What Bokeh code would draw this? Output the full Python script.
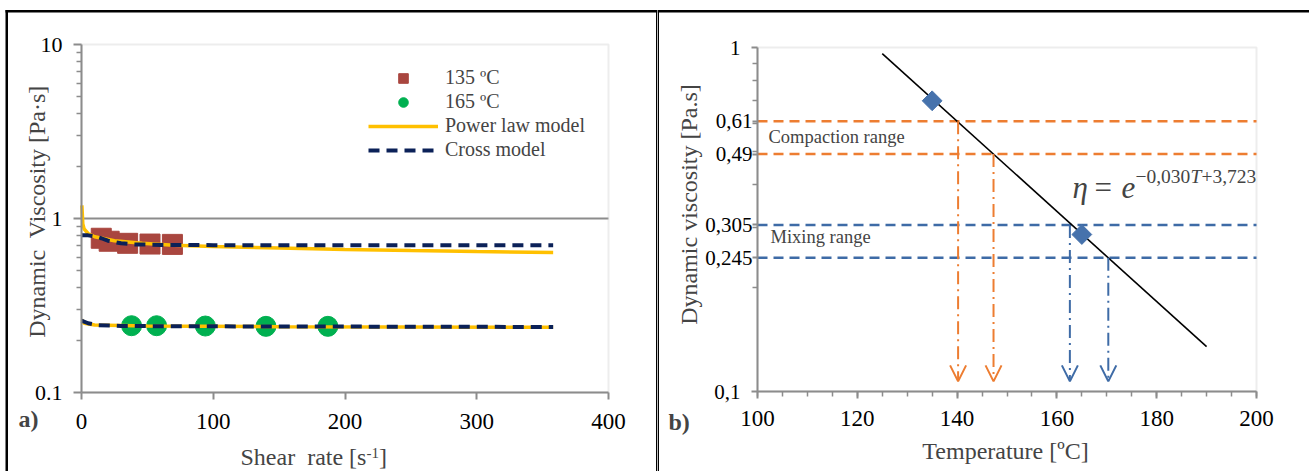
import numpy as np
from bokeh.plotting import figure
from bokeh.models import (Range1d, FixedTicker, Label, Legend, LegendItem,
                          BoxAnnotation, Arrow, OpenHead, LogAxis)
from bokeh.layouts import row
from bokeh.embed import file_html
from bokeh.resources import INLINE
from bokeh.core.properties import value

FONT = "Liberation Serif"
NB = "\u00a0"

# ---------------- panel a) data ----------------
shear_135 = [15, 21, 35, 52, 69]
visc_135 = [0.77, 0.74, 0.72, 0.713, 0.71]
shear_165 = [38, 57, 94, 140, 187]
visc_165 = [0.242, 0.242, 0.241, 0.240, 0.240]

power_135_x = [0.3, 1, 2, 5, 10, 25, 46, 70, 100, 150, 200, 250, 300, 358]
power_135_y = [1.19, 0.93, 0.87, 0.82, 0.785, 0.745, 0.72, 0.703, 0.69, 0.676, 0.664, 0.654, 0.646, 0.638]
cross_135_x = [0, 5, 10, 15, 20, 30, 40, 60, 100, 358]
cross_135_y = [0.80, 0.80, 0.79, 0.77, 0.745, 0.72, 0.71, 0.705, 0.703, 0.703]
power_165_x = [0.3, 2, 10, 50, 150, 358]
power_165_y = [0.262, 0.25, 0.244, 0.241, 0.239, 0.237]
cross_165_x = [0, 5, 12, 30, 100, 358]
cross_165_y = [0.259, 0.25, 0.244, 0.241, 0.240, 0.238]

a_xlim = [0, 400]
a_ylim = [0.1, 10]
a_xticks = [0, 100, 200, 300, 400]
a_yticks = [0.1, 1, 10]
a_yminor = [0.2, 0.3, 0.4, 0.5, 0.6, 0.7, 0.8, 0.9, 2, 3, 4, 5, 6, 7, 8, 9]
a_gridlines = [1]

# ---------------- panel b) data ----------------
temp_pts = [135, 165]
visc_pts = [0.70, 0.286]
fit_T = [125, 190]
fit_eta = [0.96, 0.135]
compaction_levels = [0.61, 0.49]
compaction_T = [140.2, 147.3]
mixing_levels = [0.305, 0.245]
mixing_T = [162.6, 170.3]
arrow_tip = 0.107

b_xlim = [100, 200]
b_ylim = [0.1, 1]
b_xticks = [100, 120, 140, 160, 180, 200]
b_xminor = list(range(100, 201, 5))
b_yticks_main = [0.1, 1]
b_ylabels_main = ["0,1", "1"]
b_yticks_range = [0.245, 0.305, 0.49, 0.61]
b_ylabels_range = ["0,245", "0,305", "0,49", "0,61"]
b_yminor = [0.2, 0.3, 0.4, 0.5, 0.6, 0.7, 0.8, 0.9]

AXIS_C = "#8C8C8C"
FRAME_C = "#C4C4C4"
ORANGE = "#ED7D31"
BLUE = "#3E6BA6"

# page-pixel geometry: the data area of each panel
A_L, A_R, A_T, A_B = 81, 608, 44, 392
B_OFF, B_W = 657, 652
B_L, B_R, B_T, B_B = 757, 1256, 47, 391
H = 471


def ax(px):
    return a_xlim[0] + (px - A_L) / (A_R - A_L) * (a_xlim[1] - a_xlim[0])


def ay(py):
    return 10 ** (np.log10(a_ylim[1]) - (py - A_T) / (A_B - A_T) * 2)


def bx(px):
    return b_xlim[0] + (px - B_L) / (B_R - B_L) * (b_xlim[1] - b_xlim[0])


def by(py):
    return 10 ** (np.log10(b_ylim[1]) - (py - B_T) / (B_B - B_T))


def set_font(axis):
    try:
        axis.major_label_text_font = value(FONT)
    except Exception:
        axis.major_label_text_font = FONT


def style_axis(a):
    a.axis_line_color = AXIS_C
    a.axis_line_width = 2
    a.major_tick_line_color = AXIS_C
    a.minor_tick_line_color = AXIS_C
    a.major_tick_line_width = 2
    a.minor_tick_line_width = 1.5
    a.major_tick_in = 0
    a.minor_tick_in = 0
    a.major_tick_out = 8
    a.minor_tick_out = 5
    set_font(a)
    a.major_label_text_color = "black"


def base_fig(w, xr, yr):
    p = figure(width=w, height=H, x_range=Range1d(*xr), y_range=Range1d(*yr),
               y_axis_type="log", output_backend="svg", toolbar_location=None,
               min_border=0, min_border_left=0, min_border_right=0,
               min_border_top=0, min_border_bottom=0)
    p.title = None
    p.outline_line_color = None
    p.background_fill_color = "white"
    p.border_fill_color = "white"
    p.xgrid.visible = False
    p.ygrid.visible = False
    for a in list(p.xaxis) + list(p.yaxis):
        style_axis(a)
    return p


def add_label(p, fx, fy, px, py, text, size, **kw):
    # py is the vertical centre of the text's em box ("middle" baseline)
    p.add_layout(Label(x=fx(px), y=fy(py), text=text, text_font=FONT,
                       text_font_size=size, text_baseline="middle", **kw))


def add_box(p, fx, fy, l, r, t, b):
    p.add_layout(BoxAnnotation(left=fx(l), right=fx(r), top=fy(t), bottom=fy(b),
                               fill_color="black", fill_alpha=1, line_color=None,
                               level="overlay"))


# ======================= panel a =======================
p1 = base_fig(B_OFF, (ax(0), ax(B_OFF)), (ay(H), ay(0)))
p1.xaxis.fixed_location = a_ylim[0]
p1.xaxis.bounds = tuple(a_xlim)
p1.xaxis.ticker = FixedTicker(ticks=a_xticks, minor_ticks=[])
p1.xaxis.major_label_text_font_size = "23px"
p1.xaxis.major_label_standoff = 14
p1.xaxis.major_tick_out = 7
p1.yaxis.fixed_location = a_xlim[0]
p1.yaxis.bounds = tuple(a_ylim)
p1.yaxis.ticker = FixedTicker(ticks=a_yticks, minor_ticks=a_yminor)
p1.yaxis.major_label_overrides = {0.1: "0.1", 1: "1", 10: "10"}
p1.yaxis.major_label_text_font_size = "22px"
p1.yaxis.major_label_standoff = 11

# plot-area outline and the gridline at 1
p1.add_layout(BoxAnnotation(left=a_xlim[0], right=a_xlim[1], bottom=a_ylim[0], top=a_ylim[1],
                            fill_alpha=0, line_color=FRAME_C, line_width=2, level="underlay"))
p1.segment(x0=[a_xlim[0]] * len(a_gridlines), x1=[a_xlim[1]] * len(a_gridlines),
           y0=a_gridlines, y1=a_gridlines, line_color=AXIS_C, line_width=2, level="underlay")

r_sq = p1.scatter(shear_135, visc_135, marker="square", size=20,
                  fill_color="#A9463F", line_color="#A9463F")
r_ci = p1.scatter(shear_165, visc_165, marker="circle", size=20,
                  fill_color="#00B050", line_color="#00B050")
r_pl = p1.line(power_135_x, power_135_y, line_color="#FFC000", line_width=3.5)
p1.line(power_165_x, power_165_y, line_color="#FFC000", line_width=3.5)
r_cr = p1.line(cross_135_x, cross_135_y, line_color="#0B2158", line_width=4,
               line_dash="11 7")
p1.line(cross_165_x, cross_165_y, line_color="#0B2158", line_width=4, line_dash="11 7")

legend = Legend(items=[LegendItem(label="135 ºC", renderers=[r_sq]),
                       LegendItem(label="165 ºC", renderers=[r_ci]),
                       LegendItem(label="Power law model", renderers=[r_pl]),
                       LegendItem(label="Cross model", renderers=[r_cr])],
                location=(368, H - 161.7))
legend.label_text_font = FONT
legend.label_text_font_size = "20px"
legend.glyph_width = 70
legend.glyph_height = 24
legend.label_height = 24
legend.spacing = 0
legend.padding = 0
legend.margin = 0
legend.label_standoff = 7
legend.border_line_color = None
legend.background_fill_alpha = 0
p1.add_layout(legend)

add_label(p1, ax, ay, 36, 211, "Dynamic" + NB + " Viscosity [Pa·s]", "24px", angle=np.pi / 2,
          text_align="center")
add_label(p1, ax, ay, 240, 456, "Shear" + NB + " rate [s", "24px", text_align="left")
add_label(p1, ax, ay, 366, 452, "-1", "15px", text_align="left")
add_label(p1, ax, ay, 378.5, 456, "]", "24px", text_align="left")
add_label(p1, ax, ay, 18, 418, "a)", "24px", text_font_style="bold", text_align="left")

for (l, r, t, b) in [(5, 7.5, 9.5, H), (5, B_OFF, 9.5, 12), (655.5, B_OFF, 9.5, H)]:
    add_box(p1, ax, ay, l, r, t, b)

# ======================= panel b =======================
p2 = base_fig(B_W, (bx(B_OFF), bx(B_OFF + B_W)), (by(H), by(0)))
p2.xaxis.fixed_location = b_ylim[0]
p2.xaxis.bounds = tuple(b_xlim)
p2.xaxis.ticker = FixedTicker(ticks=b_xticks, minor_ticks=b_xminor)
p2.xaxis.major_label_text_font_size = "23px"
p2.xaxis.major_label_standoff = 12
p2.xaxis.major_tick_out = 7
p2.yaxis.fixed_location = b_xlim[0]
p2.yaxis.bounds = tuple(b_ylim)
p2.yaxis.ticker = FixedTicker(ticks=b_yticks_main, minor_ticks=b_yminor)
p2.yaxis.major_label_overrides = dict(zip(b_yticks_main, b_ylabels_main))
p2.yaxis.major_label_text_font_size = "21px"
p2.yaxis.major_label_standoff = 11
p2.yaxis.major_tick_out = 6

# second set of y tick labels for the range limits, set closer to the axis
y_range_axis = LogAxis(fixed_location=b_xlim[0], bounds=tuple(b_ylim),
                       ticker=FixedTicker(ticks=b_yticks_range, minor_ticks=[]),
                       major_label_overrides=dict(zip(b_yticks_range, b_ylabels_range)))
style_axis(y_range_axis)
y_range_axis.axis_line_color = None
y_range_axis.major_tick_out = 5
y_range_axis.major_label_standoff = 0
y_range_axis.major_label_text_font_size = "21px"
p2.add_layout(y_range_axis, "left")

# plot-area outline
p2.add_layout(BoxAnnotation(left=b_xlim[0], right=b_xlim[1], bottom=b_ylim[0], top=b_ylim[1],
                            fill_alpha=0, line_color=FRAME_C, line_width=2, level="underlay"))

n_c, n_m = len(compaction_levels), len(mixing_levels)
p2.segment(x0=[b_xlim[0]] * n_c, x1=[b_xlim[1]] * n_c, y0=compaction_levels,
           y1=compaction_levels, line_color=ORANGE, line_width=2.5, line_dash="10 6")
p2.segment(x0=[b_xlim[0]] * n_m, x1=[b_xlim[1]] * n_m, y0=mixing_levels,
           y1=mixing_levels, line_color=BLUE, line_width=2.5, line_dash="10 6")

for T, lvl in zip(compaction_T, compaction_levels):
    p2.add_layout(Arrow(x_start=T, y_start=lvl, x_end=T, y_end=arrow_tip,
                        line_color=ORANGE, line_width=2, line_dash="13 5 2 5",
                        end=OpenHead(size=16, line_color=ORANGE, line_width=2)))
for T, lvl in zip(mixing_T, mixing_levels):
    p2.add_layout(Arrow(x_start=T, y_start=lvl, x_end=T, y_end=arrow_tip,
                        line_color=BLUE, line_width=2, line_dash="13 5 2 5",
                        end=OpenHead(size=16, line_color=BLUE, line_width=2)))

p2.line(fit_T, fit_eta, line_color="black", line_width=1.6)
p2.scatter(temp_pts, visc_pts, marker="square", angle=np.pi / 4, size=14,
           fill_color="#4672AC", line_color="#4672AC")

add_label(p2, bx, by, 688, 204, "Dynamic viscosity [Pa.s]", "24px", angle=np.pi / 2,
          text_align="center")
add_label(p2, bx, by, 1005, 450, "Temperature [ºC]", "24px", text_align="center")
add_label(p2, bx, by, 668, 421, "b)", "24px", text_font_style="bold", text_align="left")
add_label(p2, bx, by, 768, 136, "Compaction range", "18.5px", text_align="left")
add_label(p2, bx, by, 770, 236, "Mixing range", "18.5px", text_align="left")

# equation  eta = e^(-0,030T+3,723)
add_label(p2, bx, by, 1072, 186.5, "η", "31px", text_font_style="italic", text_align="left")
add_label(p2, bx, by, 1094, 186.5, "=", "31px", text_align="left")
add_label(p2, bx, by, 1121, 186.5, "e", "31px", text_font_style="italic", text_align="left")
add_label(p2, bx, by, 1135, 176.4, "−0,030", "19.5px", text_align="left")
add_label(p2, bx, by, 1190, 176.4, "T", "19.5px", text_font_style="italic", text_align="left")
add_label(p2, bx, by, 1201, 176.4, "+3,723", "19.5px", text_align="left")

for (l, r, t, b) in [(B_OFF, B_OFF + B_W, 9.5, 12), (B_OFF, 658.5, 9.5, H)]:
    add_box(p2, bx, by, l, r, t, b)

layout = row(p1, p2)
open("out.html", "w").write(file_html(layout, INLINE))
